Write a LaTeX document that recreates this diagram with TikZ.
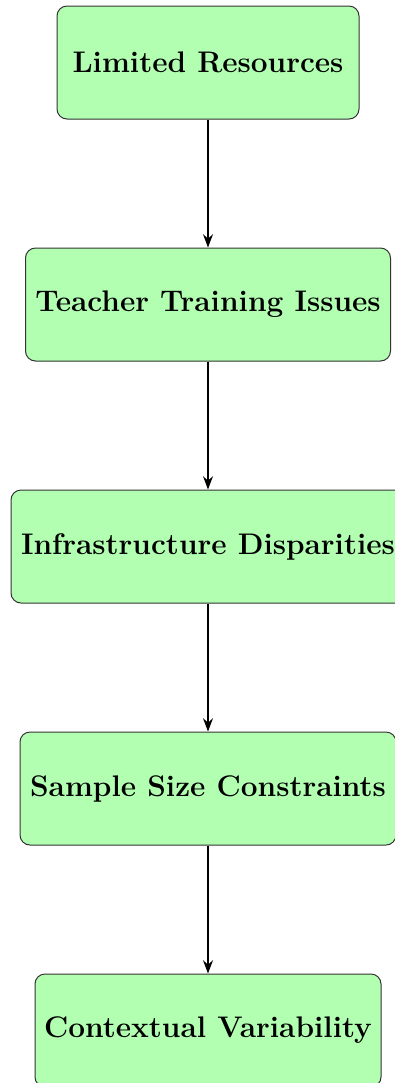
\documentclass[tikz,border=0pt]{standalone}
\usetikzlibrary{arrows.meta}
\begin{document}
\begin{tikzpicture}[x=0.5pt,y=-0.5pt,
  box/.style={draw=black!80, fill=green!30, rounded corners=5pt, line width=0.5pt,
    minimum height=56.5pt, inner sep=0pt, font=\fontsize{14.9}{18}\selectfont\bfseries},
  conn/.style={->, thick, >=Stealth}]
\useasboundingbox (0,0) rectangle (395,1083);
\node[box, minimum width=151pt] (a) at (208,62.5) {Limited Resources};
\node[box, minimum width=182.5pt] (b) at (208,304.5) {Teacher Training Issues};
\node[box, minimum width=197pt] (c) at (208,546.5) {Infrastructure Disparities};
\node[box, minimum width=188pt] (d) at (208,788.5) {Sample Size Constraints};
\node[box, minimum width=173pt] (e) at (208,1030.5) {Contextual Variability};
\draw[conn] (a) -- (b);
\draw[conn] (b) -- (c);
\draw[conn] (c) -- (d);
\draw[conn] (d) -- (e);
\end{tikzpicture}
\end{document}
